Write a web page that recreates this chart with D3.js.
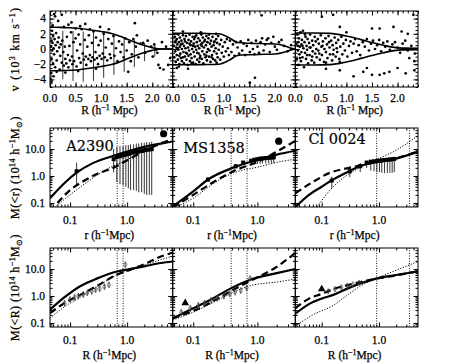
<!DOCTYPE html>
<html>
<head>
<meta charset="utf-8">
<script src="https://cdn.jsdelivr.net/npm/d3@7"></script>
<style>
  body { margin: 0; background: #fff; }
  text { font-family: "Liberation Serif", serif; fill: #000; stroke: #000; stroke-width: 0.25px; }
  text.big { font-family: "DejaVu Serif", serif; stroke-width: 0.2px; }
</style>
</head>
<body>
<svg id="fig" width="449" height="364"></svg>
<script>
// ---- top row : line-of-sight velocity (10^3 km/s) vs projected radius R ----
const clusterNames = ["A2390", "MS1358", "Cl 0024"];

const velA2390 = [
  [0.02,0.3],[0.03,1.1],[0.04,-0.2],[0.05,0.8],[0.06,1.7],[0.07,0.1],[0.08,-0.7],[0.09,1.3],[0.11,0.5],[0.12,2.1],
  [0.04,2.4],[0.14,-0.3],[0.15,0.9],[0.03,-1.3],[0.17,1.5],[0.18,0.2],[0.06,-1.9],[0.20,-0.9],[0.21,0.6],[0.13,-1.5],
  [0.23,-1.8],[0.24,1.1],[0.26,-0.4],[0.10,-2.4],[0.27,-2.2],[0.29,0.3],[0.30,-1.3],[0.19,-2.7],[0.32,-1.9],[0.33,1.6],
  [0.35,-0.8],[0.36,-2.4],[0.38,0.4],[0.39,-1.5],[0.41,2.2],[0.43,-1.0],[0.44,-2.0],[0.46,0.9],[0.47,-1.6],[0.50,1.4],
  [0.52,-2.3],[0.53,-0.2],[0.56,1.9],[0.57,-1.2],[0.59,0.6],[0.60,-1.8],[0.62,2.6],[0.64,-0.6],[0.66,-1.4],[0.68,1.2],
  [0.70,-1.0],[0.71,-2.1],[0.73,0.3],[0.75,-1.3],[0.76,1.8],[0.78,-0.8],[0.80,-1.6],[0.82,0.8],[0.83,-1.1],[0.85,2.3],
  [0.87,-1.4],[0.89,-0.4],[0.90,1.5],[0.92,-1.2],[0.94,-2.0],[0.95,0.5],[0.97,-0.9],[0.99,1.1],[1.01,-1.3],[1.03,-0.6],
  [1.05,2.0],[1.07,-1.1],[1.09,0.2],[1.12,-1.5],[1.14,1.3],[1.17,-0.7],[1.19,-1.2],[1.21,0.7],[1.24,1.7],[1.26,-0.9],
  [1.29,0.1],[1.32,-1.6],[1.35,1.0],[1.38,-0.4],[1.41,0.6],[1.44,-1.1],[1.47,1.4],[1.50,-0.2],
  [0.10,4.3],[0.08,4.6],[0.23,4.5],[0.16,3.7],[0.36,3.2],[0.42,3.5],[0.59,3.0],[0.69,3.3],[0.98,2.9],[0.27,2.9],
  [0.05,3.1],[0.50,2.7],[0.78,2.6],[1.15,2.6],
  [0.01,-3.9],[0.03,-4.3],[0.07,-3.6],[0.13,-3.0],[0.02,-3.2],[0.30,-3.1],[0.55,-2.9],[0.90,-2.6],
  [1.53,-3.0],[1.66,3.4],[1.55,0.9],[1.60,-0.7],[1.63,1.3],[1.68,0.3],[1.73,-1.1],[1.77,0.7],[1.82,0.8],[1.86,-0.5],
  [1.91,1.1],[1.98,0.3],[2.04,0.6],[2.08,-0.1],[2.12,-2.1],[2.01,-1.0],[2.10,-0.5],[2.15,-2.5],[2.22,-2.7],[2.31,-2.1],
  [2.35,-1.2],[2.27,0.3],[2.19,0.9],[1.70,1.8],[1.58,-1.6]
];

const velMS1358 = [
  [0.02,0.4],[0.03,-1.1],[0.04,1.6],[0.05,0.9],[0.05,-0.3],[0.06,-1.7],[0.07,0.2],[0.08,1.3],[0.08,-0.8],[0.09,0.6],
  [0.10,-1.4],[0.11,1.9],[0.11,-0.1],[0.12,0.9],[0.13,-2.0],[0.14,0.3],[0.14,1.5],[0.15,-0.6],[0.16,-1.2],[0.17,1.1],
  [0.18,0.0],[0.18,-1.6],[0.19,0.7],[0.20,1.8],[0.21,-0.4],[0.22,-1.9],[0.22,0.4],[0.23,1.3],[0.24,-1.0],[0.25,0.1],
  [0.26,-0.5],[0.26,1.7],[0.27,-1.4],[0.28,0.8],[0.29,-2.1],[0.30,0.2],[0.31,1.2],[0.31,-0.9],[0.32,-0.2],[0.33,1.9],
  [0.34,-1.6],[0.35,0.5],[0.35,-0.7],[0.36,1.0],[0.37,-1.2],[0.38,0.0],[0.39,1.6],[0.40,-1.8],[0.41,0.7],[0.41,-0.4],
  [0.42,1.3],[0.43,-1.0],[0.44,0.3],[0.45,-2.0],[0.46,1.8],[0.46,-0.1],[0.47,0.9],[0.48,-1.4],[0.49,0.4],[0.50,1.4],
  [0.51,-0.6],[0.52,-1.7],[0.52,0.1],[0.53,1.1],[0.54,-0.9],[0.55,0.6],[0.56,1.9],[0.57,-1.3],[0.58,-0.3],[0.58,0.8],
  [0.59,1.5],[0.60,-1.9],[0.61,0.2],[0.62,-0.7],[0.63,1.2],[0.64,-1.1],[0.65,0.5],[0.66,1.7],[0.67,-0.4],[0.67,-1.5],
  [0.68,0.9],[0.69,0.0],[0.70,1.4],[0.71,-1.0],[0.72,-0.2],[0.73,0.7],[0.74,-1.7],[0.75,1.1],[0.76,0.3],[0.77,-0.8],
  [0.78,1.6],[0.79,-1.3],[0.80,0.5],[0.81,-0.3],[0.82,1.0],[0.83,-1.5],[0.84,0.1],[0.85,1.3],[0.86,-0.6],[0.87,0.8],
  [0.88,-1.1],[0.89,1.7],[0.90,-0.1],[0.92,0.6],[0.93,-1.4],[0.95,1.2],[0.96,-0.5],[0.98,0.3],[1.00,-1.0],[1.02,0.9],
  [1.04,-0.3],[1.06,1.3],[1.08,0.1],[1.10,-0.8],
  [0.06,1.1],[0.10,0.1],[0.13,-0.9],[0.16,0.6],[0.20,-1.1],[0.24,1.0],[0.28,-0.6],[0.33,0.7],[0.37,-1.9],[0.40,0.4],
  [0.44,1.6],[0.48,-0.5],[0.53,-1.2],[0.57,0.4],[0.62,1.0],[0.66,-0.9],[0.71,1.9],[0.76,-1.1],[0.81,0.9],[0.86,-1.8],
  [1.12,1.1],[1.15,-0.4],[1.18,0.6],[1.21,-0.9],[1.24,0.9],[1.27,0.2],[1.30,-0.6],[1.33,1.0],[1.36,-0.2],[1.39,0.7],
  [1.42,-0.8],[1.45,0.4],[1.48,1.2],[1.51,-0.4],[1.54,0.8],[1.57,0.0],[1.60,-0.7],[1.63,1.1],[1.66,0.3],[1.69,-0.5],
  [1.72,0.9],[1.75,1.4],[1.78,-0.2],[1.81,0.6],[1.84,1.2],[1.87,1.4],[1.90,-0.4],[1.93,0.8],[1.97,1.6],[2.00,0.3],
  [2.04,-0.1],[2.08,0.9],[2.13,1.2],[2.18,0.4],[2.25,-0.3],[2.32,0.5],
  [1.74,4.43],[1.51,-4.43],[1.61,-3.78],[0.08,-2.5],[0.12,-2.3],[0.30,-2.6],[0.55,2.2],[0.20,2.3],[0.85,2.0]
];

const velCl0024 = [
  [0.02,0.7],[0.03,-1.3],[0.04,1.9],[0.05,-0.2],[0.06,0.9],[0.06,-2.1],[0.07,1.4],[0.08,-0.7],[0.09,0.3],[0.10,2.2],
  [0.11,-1.6],[0.12,0.6],[0.12,-0.4],[0.13,1.2],[0.14,-1.1],[0.15,2.4],[0.16,0.1],[0.17,-2.4],[0.18,0.9],[0.19,-0.5],
  [0.20,1.6],[0.21,-1.3],[0.22,0.4],[0.23,-0.1],[0.24,1.3],[0.25,-1.9],[0.27,0.8],[0.28,-0.8],[0.29,1.9],[0.30,0.2],
  [0.32,-1.5],[0.33,1.1],[0.34,-0.3],[0.35,0.5],[0.37,-1.8],[0.38,1.6],[0.39,-0.6],[0.41,0.0],[0.42,-1.1],[0.44,1.3],
  [0.45,-0.2],[0.46,0.7],[0.48,-1.4],[0.50,1.8],[0.51,0.3],[0.52,-0.8],[0.54,1.0],[0.56,-1.7],[0.57,0.0],[0.59,1.4],
  [0.60,-0.4],[0.62,0.6],[0.63,-1.2],[0.65,1.7],[0.67,0.2],[0.68,-0.7],[0.70,1.1],[0.72,-1.5],[0.73,0.5],[0.75,-0.1],
  [0.77,1.5],[0.79,-1.0],[0.80,0.8],[0.82,-0.4],[0.84,1.2],[0.86,-1.3],[0.88,0.3],[0.90,1.6],[0.92,-0.7],[0.94,0.7],
  [0.97,-0.2],[0.99,1.2],[1.02,-1.0],[1.05,0.4],[1.08,1.0],[1.11,-0.5],[1.14,0.7],[1.17,1.3],[1.20,-0.3],[1.24,0.5],
  [1.27,-0.8],
  [0.05,0.4],[0.09,-1.2],[0.14,0.4],[0.19,1.9],[0.23,-0.8],[0.28,0.2],[0.33,-1.0],[0.40,1.0],[0.47,-0.6],[0.53,0.4],
  [0.60,-1.8],[0.66,0.9],[0.74,-0.7],[0.81,0.1],
  [1.32,0.9],[1.36,0.3],[1.40,1.3],[1.44,-0.2],[1.48,0.7],[1.52,1.1],[1.56,0.0],[1.60,0.5],[1.64,1.2],[1.68,-0.3],
  [1.72,0.8],[1.76,0.3],[1.80,1.0],[1.85,-0.1],[1.90,0.6],[1.95,0.9],[2.00,0.2],[2.05,-0.5],[2.10,0.7],[2.15,1.1],
  [2.20,-0.2],[2.27,0.4],[2.34,-0.6],
  [0.52,4.25],[0.74,4.5],[0.87,2.9],[1.92,2.9],[2.08,2.3],[2.31,4.5],[1.50,2.7],[1.65,2.7],[0.87,-2.8],[1.14,-3.6],
  [1.33,-3.0],[1.40,-2.5],[1.50,-3.4],[1.65,-3.4],[1.74,-3.2],[1.84,-3.0],[2.00,-2.5],[2.16,-3.2],[2.33,-2.8],[2.33,-1.6],
  [2.23,-1.2],[0.87,-1.7],[0.60,-2.6],[1.00,2.2],[2.20,2.0]
];

// caustic amplitude (upper branch, lower branch is its mirror)
const causticR = [
  [0, 0.2, 0.4, 0.6, 0.8, 1.0, 1.2, 1.4, 1.6, 1.8, 2.0, 2.14, 2.4],
  [0, 0.3, 0.6, 0.9, 1.1, 1.27, 1.5, 1.8, 2.0, 2.2, 2.35, 2.4],
  [0, 0.35, 0.68, 1.0, 1.3, 1.5, 1.72, 1.9, 2.1, 2.4]
];
const causticA = [
  [2.86, 2.85, 2.8, 2.7, 2.5, 2.3, 2.05, 1.6, 1.05, 0.55, 0.18, 0, 0],
  [2.07, 2.07, 2.05, 2.0, 1.5, 0.85, 0.75, 0.7, 0.66, 0.4, 0.05, 0],
  [2.1, 2.1, 2.05, 1.7, 1.2, 0.85, 0.5, 0.25, 0.12, 0.1]
];
// A2390 caustic error bars
const errR_A2390 = [0.25, 0.45, 0.65, 0.85, 1.05, 1.25, 1.45, 1.65, 1.85, 2.05];
const errTop_A2390 = [2.4, 2.4, 2.3, 2.2, 2.0, 1.8, 1.5, 1.2, 0.8, 0.5];
const errBot_A2390 = [-4.0, -4.2, -4.3, -4.2, -3.8, -3.4, -3.0, -2.4, -1.6, -1.0];

// ---- middle row : M(<r) (10^14 h^-1 Msun), 3-D mass profiles ----
const m3Solid = [
  [[0.0444,0.15],[0.08,0.55],[0.13,1.32],[0.25,3.0],[0.58,5.6],[1.0,8.0],[2.0,12],[4.0,16],[6.3,19]],
  [[0.048,0.075],[0.1,0.27],[0.17,0.74],[0.42,2.04],[1.08,4.2],[2.0,6.2],[3.9,8.6]],
  [[0.0346,0.07],[0.06,0.2],[0.1,0.4],[0.14,0.64],[0.3,1.5],[0.47,2.34],[1.0,3.4],[1.78,4.2],[4.8,7.9]]
];
const m3Dashed = [
  [[0.06,0.1],[0.1,0.3],[0.17,0.64],[0.3,1.2],[0.58,2.04],[1.0,3.8],[2.0,8.5],[4.0,16.5],[6.3,23]],
  [[0.048,0.07],[0.1,0.2],[0.17,0.45],[0.42,1.5],[1.08,3.6],[2.0,8.0],[3.9,20]],
  [[0.0346,0.23],[0.07,0.6],[0.14,1.32],[0.3,2.0],[0.47,2.5],[1.0,3.4],[1.78,4.3],[4.8,8.2]]
];
const m3Dotted = [
  [[0.0444,0.05],[0.1,0.2],[0.2,0.6],[0.4,1.6],[1.0,4.0],[2.0,8.5],[6.3,20]],
  [[0.048,0.065],[0.1,0.15],[0.2,0.5],[0.42,1.3],[1.08,2.2],[2.0,3.2],[3.9,4.2]],
  [[0.083,0.072],[0.14,0.3],[0.3,1.2],[0.47,2.04],[1.0,4.5],[2.0,9],[4.8,31.7]]
];
// caustic mass estimates: [r, M, low, high]
const m3Points = [
  [[0.13,1.5,0.48,3.15],[0.58,4.2,1.35,10],[0.66,5.0,0.6,12],[0.75,5.4,0.5,13],[0.85,5.8,0.45,13],[0.95,6.2,0.4,14],
   [1.05,6.6,0.35,14],[1.15,7.0,0.3,15],[1.3,7.4,0.3,15],[1.45,7.8,0.28,16],[1.6,8.2,0.25,16],[1.8,8.6,0.25,17],
   [2.0,9.0,0.22,17],[2.2,9.3,0.2,18],[2.45,9.6,0.2,18],[2.7,9.9,0.2,19]],
  [[0.17,0.74,0.6,0.9],[0.46,2.3,1.9,2.7],[0.6,3.15,2.6,3.6],[0.8,3.7,2.7,4.0],[0.9,4.0,2.7,4.3],[1.0,4.2,2.8,4.5],
   [1.1,4.4,2.8,4.7],[1.2,4.5,2.9,4.8],[1.35,4.6,2.9,4.9],[1.5,4.7,3.0,5.0],[1.65,4.8,3.0,5.1],[1.8,4.9,3.0,5.2]],
  [[0.15,0.68,0.35,0.95],[0.31,1.5,0.9,2.2],[0.47,2.3,1.4,3.0],[0.61,3.15,2.0,3.5],[0.72,3.4,1.6,3.7],[0.82,3.5,1.5,3.8],
   [0.92,3.6,1.4,3.9],[1.02,3.7,1.4,4.0],[1.12,3.8,1.3,4.1],[1.25,3.9,1.3,4.2],[1.4,4.0,1.3,4.3],[1.55,4.1,1.3,4.4],
   [1.7,4.2,1.3,4.5],[1.85,4.3,1.4,4.6]]
];
const m3BigDot = [[4.37,36.8],[2.15,19.5],null];

// ---- bottom row : M(<R), projected mass profiles ----
const m2Solid = [
  [[0.0444,0.31],[0.08,0.9],[0.15,2.3],[0.3,4.5],[0.67,8.1],[1.0,9.5],[2.0,12.5],[3.9,16.7],[6.3,19]],
  [[0.048,0.15],[0.1,0.35],[0.17,0.65],[0.4,2.0],[0.77,4.0],[2.0,7.0],[3.9,10]],
  [[0.0346,0.22],[0.06,0.5],[0.1,0.8],[0.16,1.1],[0.3,2.0],[0.86,4.3],[2.0,6.0],[4.8,8.1]]
];
const m2Dashed = [
  [[0.0444,0.23],[0.08,0.55],[0.15,1.1],[0.3,2.4],[0.67,6.2],[1.0,8.5],[2.0,15],[3.9,29],[6.3,40]],
  [[0.048,0.15],[0.1,0.28],[0.24,0.8],[0.4,1.6],[0.77,3.6],[2.0,12],[3.9,39]],
  [[0.0346,0.35],[0.06,0.8],[0.1,1.2],[0.16,1.8],[0.3,2.6],[0.86,4.3],[2.0,5.8],[4.8,8.3]]
];
const m2Dotted = [
  [[0.0444,0.15],[0.08,0.4],[0.15,0.9],[0.3,2.2],[0.67,6.2],[1.0,8.6],[2.0,14],[3.9,22],[6.3,30]],
  [[0.048,0.13],[0.1,0.25],[0.24,0.7],[0.4,1.3],[0.77,2.4],[2.0,3.3],[3.9,4.2]],
  [[0.0346,0.075],[0.07,0.2],[0.16,0.45],[0.3,1.2],[0.5,2.5],[0.86,4.3],[2.0,9],[4.8,19]]
];
const m2Points = [
  [[0.08,0.55,0.4,0.7],[0.1,0.75,0.55,0.95],[0.12,0.9,0.65,1.15],[0.14,1.0,0.75,1.3],[0.17,1.15,0.85,1.5],[0.2,1.3,1.0,1.7],
   [0.24,1.5,1.1,1.9],[0.28,1.7,1.3,2.2],[0.33,1.9,1.4,2.5],[0.4,2.2,1.7,2.9],[0.48,2.6,2.0,3.4],[0.93,14.5,11,19]],
  [[0.065,0.25,0.18,0.33],[0.09,0.35,0.25,0.45],[0.12,0.45,0.33,0.58],[0.15,0.55,0.4,0.7],[0.19,0.7,0.5,0.9],
   [0.24,0.85,0.62,1.1],[0.3,1.0,0.75,1.3],[0.37,1.2,0.9,1.55],[0.45,1.4,1.05,1.8],[0.55,1.6,1.2,2.1],[0.68,2.0,1.5,2.6],[0.77,4.5,3.5,5.5]],
  [[0.13,1.5,1.2,1.8],[0.17,1.8,1.5,2.1],[0.22,2.1,1.8,2.4],[0.28,2.4,2.1,2.7],[0.35,2.7,2.4,3.0],[0.45,3.1,2.8,3.4]]
];
const m2BigMark = [null,[0.075,0.55],[0.1,1.8]];

// vertical dotted marks (same radii in both mass rows)
const vLines = [[0.67, 0.85], [0.39, 0.69], [0.91, 3.4]];

// ---- layout ----
const svg = d3.select("#fig");
const cols = [[50, 172.7], [172.7, 295.3], [295.3, 418]];
const rowTop = [11, 87], rowMid = [128, 207], rowBot = [248, 327];
const logXDomains = [[0.0444, 6.3], [0.0478, 3.9], [0.0346, 4.8]];
const massDomain = [0.071, 60];

let clipId = 0;
function panel(x, y) {
  const [x0, x1] = x.range();
  const [y1, y0] = y.range();
  const id = "clip" + (clipId++);
  svg.append("clipPath").attr("id", id).append("rect")
    .attr("x", x0).attr("y", y0).attr("width", x1 - x0).attr("height", y1 - y0);
  return svg.append("g").attr("clip-path", `url(#${id})`);
}

function ticks(x, y, xMaj, xMin, yMaj, yMin) {
  const [x0, x1] = x.range();
  const [y1, y0] = y.range();
  const g = svg.append("g");
  const put = (axis, tx, ty, vals, size) => {
    g.append("g").attr("transform", `translate(${tx},${ty})`)
      .call(axis.tickValues(vals).tickSize(-size).tickFormat(""))
      .call(a => a.select(".domain").remove());
  };
  put(d3.axisBottom(x), 0, y1, xMaj, 4.5);
  put(d3.axisBottom(x), 0, y1, xMin, 2.5);
  put(d3.axisTop(x), 0, y0, xMaj, 4.5);
  put(d3.axisTop(x), 0, y0, xMin, 2.5);
  put(d3.axisLeft(y), x0, 0, yMaj, 4.5);
  put(d3.axisLeft(y), x0, 0, yMin, 2.5);
  put(d3.axisRight(y), x1, 0, yMaj, 4.5);
  put(d3.axisRight(y), x1, 0, yMin, 2.5);
  g.append("rect").attr("x", x0).attr("y", y0).attr("width", x1 - x0).attr("height", y1 - y0)
    .attr("fill", "none").attr("stroke", "#000").attr("stroke-width", 1);
}

function logMinors(dom) {
  const out = [];
  for (let e = -3; e <= 2; e++) {
    for (let k = 2; k <= 9; k++) {
      const v = k * Math.pow(10, e);
      if (v > dom[0] && v < dom[1]) out.push(v);
    }
  }
  return out;
}

const tickFont = "11.5px";
const titleFont = "11.5px";

function supText(t, parts) {
  // parts: [text, shift] ; shift -1 = superscript, 1 = subscript
  let cur = 0;
  parts.forEach(([s, shift]) => {
    const want = shift * (shift < 0 ? 4.5 : 2.5);
    const ts = t.append("tspan").attr("dy", want - cur).text(s);
    if (shift !== 0) ts.style("font-size", "8px");
    cur = want;
  });
}

// ---- top row ----
const velSets = [velA2390, velMS1358, velCl0024];
const yVel = d3.scaleLinear().domain([-5, 5]).range([rowTop[1], rowTop[0]]);
cols.forEach((c, i) => {
  const x = d3.scaleLinear().domain([0, 2.4]).range(c);
  const g = panel(x, yVel);
  g.selectAll("circle").data(velSets[i]).join("circle")
    .attr("cx", d => x(d[0])).attr("cy", d => yVel(d[1])).attr("r", 1.35).attr("fill", "#000");

  const up = causticR[i].map((r, k) => [r, causticA[i][k]]);
  const lo = causticR[i].map((r, k) => [r, -causticA[i][k]]);
  const line = d3.line().x(d => x(d[0])).y(d => yVel(d[1])).curve(d3.curveMonotoneX);
  [up, lo].forEach(p => g.append("path").attr("d", line(p))
    .attr("fill", "none").attr("stroke", "#000").attr("stroke-width", 1.6));

  if (i === 0) {
    g.selectAll("line.err").data(errR_A2390).join("line").attr("class", "err")
      .attr("x1", d => x(d)).attr("x2", d => x(d))
      .attr("y1", (d, k) => yVel(errTop_A2390[k])).attr("y2", (d, k) => yVel(errBot_A2390[k]))
      .attr("stroke", "#000").attr("stroke-width", 0.8);
  }

  ticks(x, yVel, d3.range(0, 2.41, 0.5), d3.range(0, 2.41, 0.1), [-4, -2, 0, 2, 4], d3.range(-5, 5.01, 0.5));

  svg.selectAll(null).data([0, 0.5, 1, 1.5, 2]).join("text")
    .attr("x", d => x(d)).attr("y", 102).attr("text-anchor", "middle")
    .style("font-size", tickFont).text(d => d3.format(".1f")(d));

  const t = svg.append("text").attr("x", (c[0] + c[1]) / 2 - 2).attr("y", 114)
    .attr("text-anchor", "middle").style("font-size", titleFont);
  supText(t, [["R (h", 0], ["−1", -1], [" Mpc)", 0]]);
});
svg.selectAll(null).data([4, 2, 0, -2, -4]).join("text")
  .attr("x", 46).attr("y", d => yVel(d) + 3.8).attr("text-anchor", "end")
  .style("font-size", tickFont).text(d => d < 0 ? "−" + Math.abs(d) : d);

// ---- mass rows ----
function massRow(rowY, solid, dashed, dotted, pts, bigMark, isProjected) {
  const y = d3.scaleLog().domain(massDomain).range([rowY[1], rowY[0]]);
  cols.forEach((c, i) => {
    const x = d3.scaleLog().domain(logXDomains[i]).range(c);
    const g = panel(x, y);
    const line = d3.line().x(d => x(d[0])).y(d => y(d[1])).curve(d3.curveMonotoneX);

    vLines[i].forEach(r => g.append("line")
      .attr("x1", x(r)).attr("x2", x(r)).attr("y1", rowY[0]).attr("y2", rowY[1])
      .attr("stroke", "#000").attr("stroke-width", 0.9).attr("stroke-dasharray", "1,1.5"));

    g.append("path").attr("d", line(dotted[i])).attr("fill", "none")
      .attr("stroke", "#000").attr("stroke-width", 1).attr("stroke-dasharray", "1.2,1.6");
    g.append("path").attr("d", line(dashed[i])).attr("fill", "none")
      .attr("stroke", "#000").attr("stroke-width", 2.2).attr("stroke-dasharray", "7,4");
    g.append("path").attr("d", line(solid[i])).attr("fill", "none")
      .attr("stroke", "#000").attr("stroke-width", 2.2);

    g.selectAll("line.eb").data(pts[i]).join("line").attr("class", "eb")
      .attr("x1", d => x(d[0])).attr("x2", d => x(d[0]))
      .attr("y1", d => y(d[2])).attr("y2", d => y(d[3]))
      .attr("stroke", isProjected ? "#444" : "#000").attr("stroke-width", 0.8);

    if (isProjected) {
      g.selectAll("path.pt").data(pts[i]).join("path").attr("class", "pt")
        .attr("transform", d => `translate(${x(d[0])},${y(d[1])})`)
        .attr("d", d3.symbol(d3.symbolDiamond, 9)).attr("fill", "none")
        .attr("stroke", "#444").attr("stroke-width", 0.7);
      if (bigMark[i]) {
        g.append("path").attr("transform", `translate(${x(bigMark[i][0])},${y(bigMark[i][1])})`)
          .attr("d", d3.symbol(d3.symbolTriangle, 26)).attr("fill", "#000");
      }
    } else {
      g.selectAll("rect.pt").data(pts[i]).join("rect").attr("class", "pt")
        .attr("x", d => x(d[0]) - 2).attr("y", d => y(d[1]) - 2)
        .attr("width", 4).attr("height", 4).attr("fill", "#000");
      if (bigMark[i]) {
        g.append("circle").attr("cx", x(bigMark[i][0])).attr("cy", y(bigMark[i][1]))
          .attr("r", 3.6).attr("fill", "#000");
      }
    }

    ticks(x, y, [0.1, 1], logMinors(logXDomains[i]), [0.1, 1, 10], logMinors(massDomain));

    svg.selectAll(null).data([0.1, 1]).join("text")
      .attr("x", d => x(d)).attr("y", rowY[1] + 17).attr("text-anchor", "middle")
      .style("font-size", tickFont).text(d => d3.format(".1f")(d));

    const t = svg.append("text").attr("x", (c[0] + c[1]) / 2 - 2).attr("y", rowY[1] + 32)
      .attr("text-anchor", "middle").style("font-size", titleFont);
    supText(t, [[isProjected ? "R (h" : "r (h", 0], ["−1", -1], ["Mpc)", 0]]);

    if (!isProjected) {
      const lx = [90, 214, 337][i], ly = [151, 153, 144][i];
      svg.append("text").attr("class", "big").attr("x", lx).attr("y", ly).attr("text-anchor", "middle")
        .style("font-size", "14.5px").text(clusterNames[i]);
    }
  });

  svg.selectAll(null).data([10, 1, 0.1]).join("text")
    .attr("x", 45).attr("y", d => y(d) + 3.8).attr("text-anchor", "end")
    .style("font-size", tickFont).text(d => d3.format(".1f")(d));

  const cy = (rowY[0] + rowY[1]) / 2;
  const t = svg.append("text").attr("transform", `translate(19,${cy}) rotate(-90)`)
    .attr("text-anchor", "middle").style("font-size", "12px").style("letter-spacing", "0.4px");
  supText(t, [[isProjected ? "M(<R) (10" : "M(<r) (10", 0], ["14", -1], [" h", 0], ["−1", -1],
              ["M", 0], ["⊙", 1], [")", 0]]);
}

massRow(rowMid, m3Solid, m3Dashed, m3Dotted, m3Points, m3BigDot, false);
massRow(rowBot, m2Solid, m2Dashed, m2Dotted, m2Points, m2BigMark, true);

// top-row y title
{
  const t = svg.append("text").attr("transform", `translate(19,${(rowTop[0] + rowTop[1]) / 2}) rotate(-90)`)
    .attr("text-anchor", "middle").style("font-size", "12px").style("letter-spacing", "1.2px");
  supText(t, [["v (10", 0], ["3", -1], [" km s", 0], ["−1", -1], [")", 0]]);
}
</script>
</body>
</html>
